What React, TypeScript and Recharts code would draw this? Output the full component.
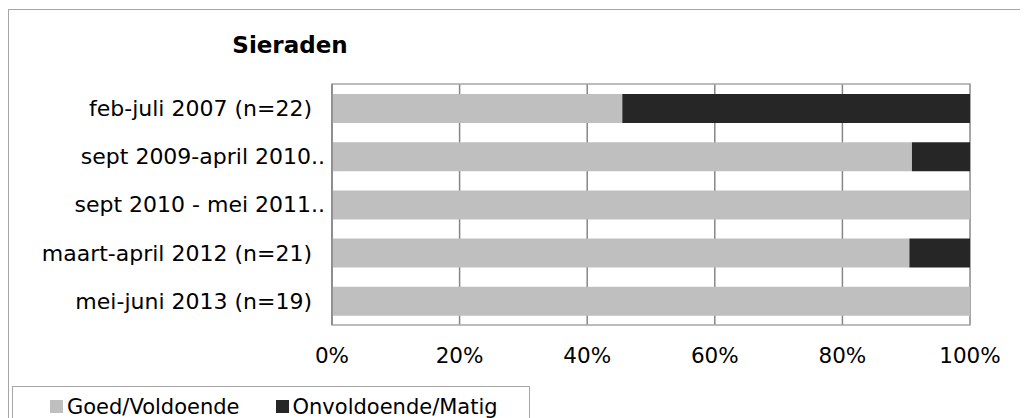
import { BarChart, Bar, XAxis, YAxis, CartesianGrid, ReferenceArea } from 'recharts'

// categories as drawn (long ones are cut off in the source chart)
const periods = [
  'feb-juli 2007 (n=22)',
  'sept 2009-april 2010..',
  'sept 2010 - mei 2011..',
  'maart-april 2012 (n=21)',
  'mei-juni 2013 (n=19)',
]
const goed = [45.5, 90.9, 100, 90.5, 100]
const onvoldoende = [54.5, 9.1, 0, 9.5, 0]
const xTicks = [0, 20, 40, 60, 80, 100]

const GOED_COLOR = '#BFBFBF'
const ONV_COLOR = '#262626'
const FONT = '"DejaVu Sans", Verdana, sans-serif'

const data = periods.map((p, i) => ({ period: p, goed: goed[i], onvoldoende: onvoldoende[i] }))

// truncated labels sit closer to the axis, like in Excel
function PeriodTick({ x, y, payload }: any) {
  const label: string = payload.value
  const dx = label.endsWith('..') ? -5 : -18
  return (
    <text x={x + dx} y={y} dy="0.36em" textAnchor="end" fill="#000" fontSize={22} fontFamily={FONT}>
      {label}
    </text>
  )
}

function LegendItem({ color, label }: { color: string; label: string }) {
  return (
    <span style={{ display: 'inline-flex', alignItems: 'center', marginRight: 36 }}>
      <span style={{ width: 13, height: 13, background: color, marginRight: 4, display: 'inline-block' }} />
      <span>{label}</span>
    </span>
  )
}

export default function App() {
  return (
    <div
      style={{
        position: 'relative',
        width: 1018,
        height: 420,
        border: '1px solid #A6A6A6',
        marginTop: 1,
        fontFamily: FONT,
        background: '#fff',
        overflow: 'hidden',
      }}
    >
      <div
        style={{
          position: 'absolute',
          left: 181,
          top: 22,
          width: 200,
          textAlign: 'center',
          fontWeight: 'bold',
          fontSize: 23,
          color: '#000',
        }}
      >
        Sieraden
      </div>
      <div style={{ position: 'absolute', left: 0, top: 0 }}>
        <BarChart
          width={1018}
          height={370}
          data={data}
          layout="vertical"
          margin={{ top: 74, right: 57, bottom: 15, left: 0 }}
          barSize={29}
        >
          <CartesianGrid horizontal={false} stroke="#868686" strokeWidth={1.5} />
          <XAxis
            type="number"
            domain={[0, 100]}
            ticks={xTicks}
            tickFormatter={(v: number) => `${v}%`}
            axisLine={false}
            tickLine={false}
            tickSize={0}
            tickMargin={23}
            height={40}
            tick={{ fill: '#000', fontSize: 21.5, fontFamily: FONT }}
          />
          <YAxis
            type="category"
            dataKey="period"
            width={323}
            axisLine={{ stroke: '#868686', strokeWidth: 1.5 }}
            tickLine={false}
            tickSize={0}
            tick={<PeriodTick />}
          />
          <ReferenceArea x1={0} x2={100} fill="none" stroke="#A6A6A6" strokeWidth={1.5} />
          <Bar dataKey="goed" stackId="a" fill={GOED_COLOR} isAnimationActive={false} />
          <Bar dataKey="onvoldoende" stackId="a" fill={ONV_COLOR} isAnimationActive={false} />
        </BarChart>
      </div>
      <div
        style={{
          position: 'absolute',
          left: 3,
          top: 376,
          width: 479,
          height: 60,
          border: '1px solid #A6A6A6',
          padding: '6px 0 0 37px',
          fontSize: 21,
          lineHeight: '26px',
          color: '#000',
          whiteSpace: 'nowrap',
        }}
      >
        <LegendItem color={GOED_COLOR} label="Goed/Voldoende" />
        <LegendItem color={ONV_COLOR} label="Onvoldoende/Matig" />
      </div>
    </div>
  )
}
